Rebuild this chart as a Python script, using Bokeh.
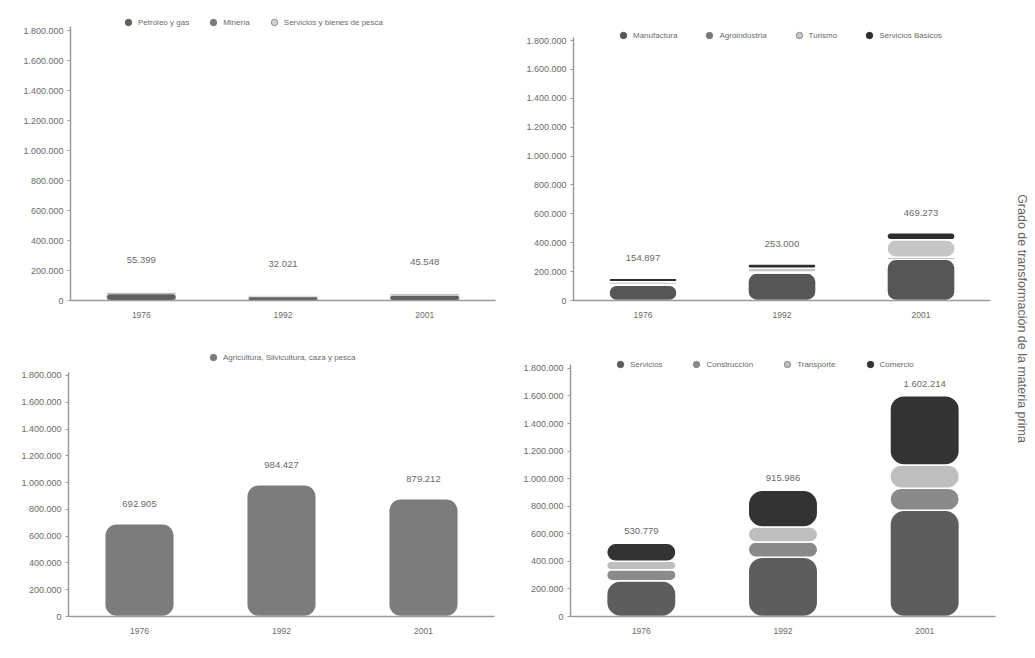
import math
from bokeh.plotting import figure
from bokeh.models import (ColumnDataSource, Range1d, FixedTicker, Legend, LegendItem, Label)
from bokeh.core.properties import value
from bokeh.layouts import row, column
from bokeh.embed import file_html
from bokeh.resources import INLINE

# ---------------- data ----------------
YEARS = ["1976", "1992", "2001"]
Y_TICKS = [0, 200000, 400000, 600000, 800000, 1000000, 1200000, 1400000, 1600000, 1800000]
Y_TICK_LABELS = ["0", "200.000", "400.000", "600.000", "800.000", "1.000.000",
                 "1.200.000", "1.400.000", "1.600.000", "1.800.000"]

# Chart 1: extractive sectors
c1_series = ["Petróleo y gas", "Minería", "Servicios y bienes de pesca"]
c1_petroleo = [45000, 25000, 35000]
c1_mineria = [8000, 5000, 8000]
c1_pesca = [2399, 2021, 2548]
c1_totals = ["55.399", "32.021", "45.548"]
c1_colors = ["#5f5f5f", "#7a7a7a", "#d4d4d4"]

# Chart 2: transformation sectors
c2_series = ["Manufactura", "Agroindustria", "Turismo", "Servicios Básicos"]
c2_manufactura = [105000, 190000, 285000]
c2_agroindustria = [5000, 8000, 15000]
c2_turismo = [20000, 25000, 120000]
c2_basicos = [24897, 30000, 49273]
c2_totals = ["154.897", "253.000", "469.273"]
c2_colors = ["#565656", "#7a7a7a", "#c6c6c6", "#2e2e2e"]

# Chart 3: primary sector
c3_series = ["Agricultura, Silvicultura, caza y pesca"]
c3_agricultura = [692905, 984427, 879212]
c3_totals = ["692.905", "984.427", "879.212"]
c3_colors = ["#7c7c7c"]

# Chart 4: services
c4_series = ["Servicios", "Construcción", "Transporte", "Comercio"]
c4_servicios = [260000, 430000, 770000]
c4_construccion = [80000, 110000, 160000]
c4_transporte = [60000, 110000, 170000]
c4_comercio = [130779, 265986, 502214]
c4_totals = ["530.779", "915.986", "1.602.214"]
c4_colors = ["#5d5d5d", "#8a8a8a", "#bebebe", "#333333"]

SIDE_TEXT = "Grado de transformación de la materia prima"

FONT = "Liberation Sans"
TXT = "#6a6a6a"
LIGHT = ("#d4d4d4", "#c6c6c6", "#bebebe")


def make_chart(series, values, colors, totals, width, height, left, right, top, bottom,
               y_end, axis_end, legend_x, legend_dy, label_off, radius, spacing, lw):
    p = figure(x_range=YEARS, y_range=Range1d(0, y_end), width=width, height=height,
               title=None, output_backend="svg", toolbar_location=None,
               min_border_left=left, min_border_right=right,
               min_border_top=top, min_border_bottom=bottom)
    p.outline_line_color = None
    p.xgrid.grid_line_color = None
    p.ygrid.grid_line_color = None
    p.background_fill_color = "white"
    p.border_fill_color = "white"

    data = {"year": YEARS}
    for s, v in zip(series, values):
        data[s] = v
    cum = [0, 0, 0]
    for v in values:
        cum = [a + b for a, b in zip(cum, v)]
    data["total"] = cum
    data["label"] = totals
    src = ColumnDataSource(data)

    p.vbar_stack(series, x="year", width=0.49, color=colors, source=src,
                 line_color="white", line_width=lw, border_radius=radius)

    p.text(x="year", y="total", text="label", source=src, y_offset=-label_off,
           text_align="center", text_baseline="middle", text_font_size="9.5px",
           text_color=TXT, text_font=value(FONT))

    # legend with round markers (zero-size points in the plot; legend draws its own size)
    items = []
    for s, c in zip(series, colors):
        r = p.scatter(x="year", y="total", source=src, size=0,
                      marker="circle", fill_color=c,
                      line_color="#8a8a8a" if c in LIGHT else c, line_width=1)
        items.append(LegendItem(label=s, renderers=[r]))
    frame_h = height - top - bottom
    leg = Legend(items=items, orientation="horizontal",
                 location=(legend_x, frame_h - legend_dy),
                 background_fill_alpha=0, border_line_alpha=0,
                 label_text_font_size="8px", label_text_color=TXT, label_text_font=FONT,
                 glyph_width=16, glyph_height=18, label_height=18,
                 spacing=spacing, padding=2, margin=0, label_standoff=2)
    p.add_layout(leg, "center")

    ya = p.yaxis[0]
    ya.ticker = FixedTicker(ticks=Y_TICKS)
    ya.major_label_overrides = {t: l for t, l in zip(Y_TICKS, Y_TICK_LABELS)}
    ya.bounds = (0, axis_end)
    ya.minor_tick_line_color = None
    ya.major_tick_out = 3
    ya.major_tick_in = 0
    ya.major_tick_line_color = "#9a9a9a"
    ya.axis_line_color = "#9a9a9a"
    ya.axis_line_width = 1.5
    ya.major_label_text_font_size = "9px"
    ya.major_label_text_color = TXT
    ya.major_label_text_font = FONT
    ya.major_label_standoff = 4

    xa = p.xaxis[0]
    xa.major_tick_line_color = None
    xa.axis_line_color = "#9a9a9a"
    xa.axis_line_width = 1.5
    xa.major_label_text_font_size = "8.5px"
    xa.major_label_text_color = TXT
    xa.major_label_text_font = FONT
    xa.major_label_standoff = 5
    return p


# top row shares frame top (12) and bottom (300); bottom row top 16, bottom 286 (local)
p1 = make_chart(c1_series, [c1_petroleo, c1_mineria, c1_pesca], c1_colors, c1_totals,
                505, 330, 70, 10, 12, 30, 1920000, 1830000, 48, 21, 32, 4, 16, 0.5)
p2 = make_chart(c2_series, [c2_manufactura, c2_agroindustria, c2_turismo, c2_basicos],
                c2_colors, c2_totals,
                505, 330, 68, 20, 12, 30, 1994000, 1820000, 40, 34, 20, 9, 24, 1.5)
p3 = make_chart(c3_series, [c3_agricultura], c3_colors, c3_totals,
                505, 328, 68, 11, 16, 42, 2016000, 1820000, 135, 22, 20, 12, 14, 1.5)
p4 = make_chart(c4_series, [c4_servicios, c4_construccion, c4_transporte, c4_comercio],
                c4_colors, c4_totals,
                505, 328, 65, 15, 16, 42, 1959000, 1830000, 40, 29, 12, 14, 26, 1.5)

strip = figure(width=25, height=658, x_range=Range1d(0, 25), y_range=Range1d(0, 658),
               title=None, output_backend="svg", toolbar_location=None, min_border=0)
strip.axis.visible = False
strip.grid.visible = False
strip.outline_line_color = None
strip.border_fill_color = "white"
strip.add_layout(Label(x=11, y=340, x_units="data", y_units="data", text=SIDE_TEXT,
                       angle=-math.pi / 2, text_align="center", text_baseline="middle",
                       text_font_size="12.5px", text_color="#666666", text_font=FONT))

layout = row(column(row(p1, p2), row(p3, p4)), strip)

open("out.html", "w").write(file_html(layout, INLINE))
